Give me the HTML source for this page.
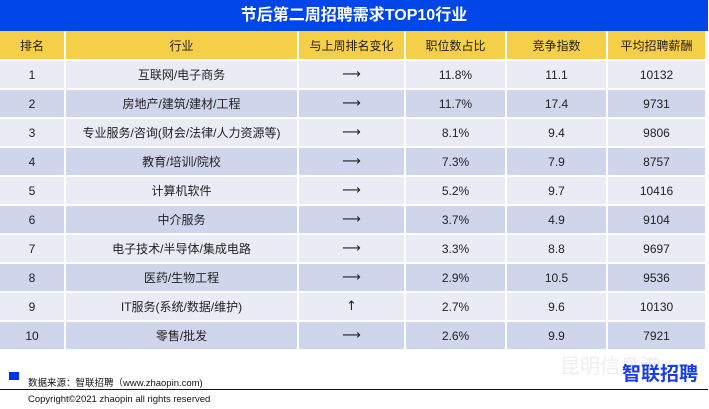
<!DOCTYPE html>
<html><head><meta charset="utf-8"><style>
body{margin:0;width:709px;height:409px;background:#fff;position:relative;overflow:hidden;font-family:"Liberation Sans","Noto Sans CJK SC",sans-serif;}
.title{position:absolute;left:0;top:0;width:708px;height:31px;background:#0046e8;color:#fff;font-size:16px;font-weight:bold;text-align:center;line-height:31px;}
.row{position:absolute;left:0;width:707px;display:flex;}
.row div{box-sizing:border-box;border-right:2px solid #fff;border-bottom:2px solid #fff;text-align:center;font-size:12px;color:#222;display:flex;align-items:center;justify-content:center;}
.h div{background:#f6cf48;}
.a div{background:#e9ebf5;}
.b div{background:#cfd5ea;}
.c1{width:66px}.c2{width:233px}.c3{width:107px}.c4{width:101px}.c5{width:101px}.c6{width:99px}
.row div.ar{font-family:"DejaVu Sans",sans-serif;font-size:13px;}
.sq{position:absolute;left:9px;top:372px;width:10px;height:8px;background:#0033ee;}
.src{position:absolute;left:28px;top:375px;font-size:9.5px;color:#111;}
.line{position:absolute;left:0;top:389px;width:708px;height:1px;background:#111;}
.cp{position:absolute;left:28px;top:394px;font-size:9.5px;color:#111;}
.logo{position:absolute;left:622px;top:359px;font-size:19px;font-weight:bold;color:#1a3ce0;}
.wm{position:absolute;left:560px;top:350px;font-size:20px;color:#eee;}
</style></head><body>
<div class="title">节后第二周招聘需求TOP10行业</div>
<div class="row h" style="top:31px;height:30px"><div class="c1">排名</div><div class="c2">行业</div><div class="c3">与上周排名变化</div><div class="c4">职位数占比</div><div class="c5">竞争指数</div><div class="c6">平均招聘薪酬</div></div>
<div class="row a" style="top:61px;height:29px"><div class="c1">1</div><div class="c2">互联网/电子商务</div><div class="c3 ar">⟶</div><div class="c4">11.8%</div><div class="c5">11.1</div><div class="c6">10132</div></div>
<div class="row b" style="top:90px;height:29px"><div class="c1">2</div><div class="c2">房地产/建筑/建材/工程</div><div class="c3 ar">⟶</div><div class="c4">11.7%</div><div class="c5">17.4</div><div class="c6">9731</div></div>
<div class="row a" style="top:119px;height:29px"><div class="c1">3</div><div class="c2">专业服务/咨询(财会/法律/人力资源等)</div><div class="c3 ar">⟶</div><div class="c4">8.1%</div><div class="c5">9.4</div><div class="c6">9806</div></div>
<div class="row b" style="top:148px;height:29px"><div class="c1">4</div><div class="c2">教育/培训/院校</div><div class="c3 ar">⟶</div><div class="c4">7.3%</div><div class="c5">7.9</div><div class="c6">8757</div></div>
<div class="row a" style="top:177px;height:29px"><div class="c1">5</div><div class="c2">计算机软件</div><div class="c3 ar">⟶</div><div class="c4">5.2%</div><div class="c5">9.7</div><div class="c6">10416</div></div>
<div class="row b" style="top:206px;height:29px"><div class="c1">6</div><div class="c2">中介服务</div><div class="c3 ar">⟶</div><div class="c4">3.7%</div><div class="c5">4.9</div><div class="c6">9104</div></div>
<div class="row a" style="top:235px;height:29px"><div class="c1">7</div><div class="c2">电子技术/半导体/集成电路</div><div class="c3 ar">⟶</div><div class="c4">3.3%</div><div class="c5">8.8</div><div class="c6">9697</div></div>
<div class="row b" style="top:264px;height:29px"><div class="c1">8</div><div class="c2">医药/生物工程</div><div class="c3 ar">⟶</div><div class="c4">2.9%</div><div class="c5">10.5</div><div class="c6">9536</div></div>
<div class="row a" style="top:293px;height:29px"><div class="c1">9</div><div class="c2">IT服务(系统/数据/维护)</div><div class="c3 ar">↑</div><div class="c4">2.7%</div><div class="c5">9.6</div><div class="c6">10130</div></div>
<div class="row b" style="top:322px;height:29px"><div class="c1">10</div><div class="c2">零售/批发</div><div class="c3 ar">⟶</div><div class="c4">2.6%</div><div class="c5">9.9</div><div class="c6">7921</div></div>
<div class="wm">昆明信息港</div>
<div class="logo">智联招聘</div>
<div class="sq"></div>
<div class="src">数据来源：智联招聘（www.zhaopin.com)</div>
<div class="line"></div>
<div class="cp">Copyright©2021 zhaopin all rights reserved</div>
</body></html>
